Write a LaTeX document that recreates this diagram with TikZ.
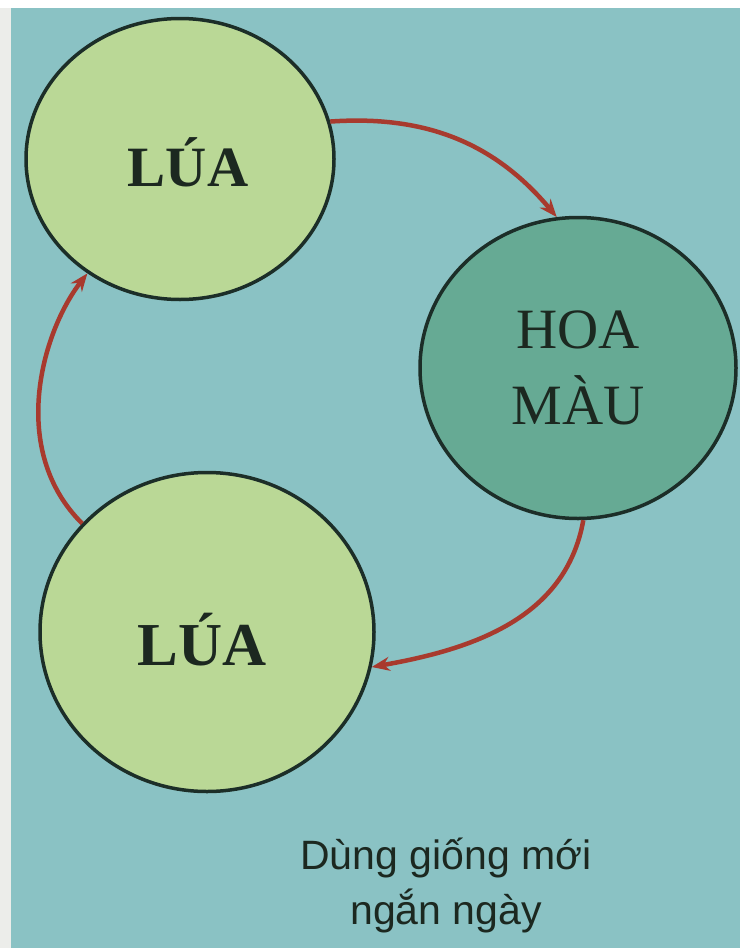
\documentclass[tikz,border=0pt]{standalone}
\usepackage{fontspec}
\setmainfont{Liberation Serif}
\newfontfamily\capfont{Liberation Sans}
\usetikzlibrary{shapes.geometric,arrows.meta}
\definecolor{paper}{RGB}{236,237,234}
\definecolor{bgteal}{RGB}{138,194,196}
\definecolor{luagreen}{RGB}{186,216,150}
\definecolor{hoagreen}{RGB}{102,170,148}
\definecolor{rimdark}{RGB}{28,46,40}
\definecolor{arrowred}{RGB}{168,58,46}
\definecolor{inkdark}{RGB}{28,40,32}
\tikzset{
  cropcircle/.style={ellipse, draw=rimdark, line width=3.5pt, text=inkdark, align=center, inner sep=0pt},
  cyclearrow/.style={draw=arrowred, line width=4.5pt, -{Stealth[length=18pt,width=14pt]}},
}
\begin{document}
\begin{tikzpicture}[x=1pt,y=-1pt]
\fill[paper] (0,0) rectangle (740,948);
\fill[white] (0,0) rectangle (740,8);
\fill[bgteal] (11,8) rectangle (740,948);
\useasboundingbox (0,0) rectangle (740,948);

\node[cropcircle, fill=luagreen, minimum width=308pt, minimum height=281pt] (lua1) at (180,159) {};
\node[text=inkdark, font={\fontsize{57}{60}\selectfont\bfseries}] (lua1text) at (188,162) {L\'UA};
\node[cropcircle, fill=hoagreen, minimum width=316pt, minimum height=301pt,
      font={\fontsize{57}{76}\selectfont}] (hoa) at (578,368)
  {HOA\\M\`AU};
\node[cropcircle, fill=luagreen, minimum width=334pt, minimum height=319pt] (lua2) at (207,632) {};
\node[text=inkdark, font={\fontsize{61}{64}\selectfont\bfseries}] (lua2text) at (202,640) {L\'UA};

\draw[cyclearrow] (lua1.14) to[out=4, in=130] (hoa.98);
\draw[cyclearrow] (hoa.272) to[out=-100, in=10] (lua2.-12);
\draw[cyclearrow] (lua2.139) .. controls (8,450) and (42,332) .. (lua1.231);

\node[text=inkdark, align=center, font={\capfont\fontsize{41}{55}\selectfont}] (caption) at (446,885)
  {Dùng giống mới\\ngắn ngày};
\end{tikzpicture}
\end{document}
